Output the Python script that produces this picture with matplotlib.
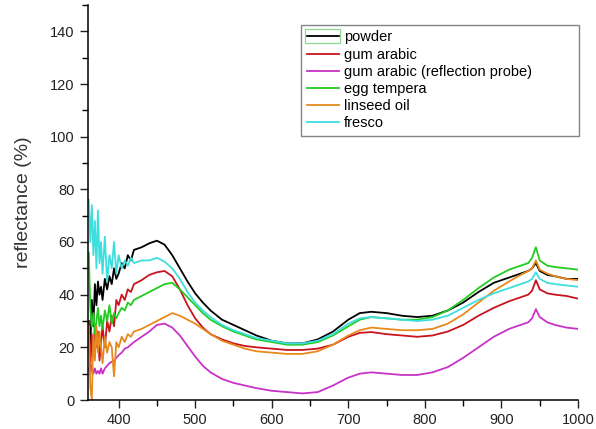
import matplotlib
matplotlib.use("Agg")
import matplotlib.pyplot as plt
from matplotlib.ticker import MultipleLocator
from matplotlib.patches import Rectangle

plt.rcParams['font.family'] = ['Liberation Sans', 'DejaVu Sans']

wavelength = [361, 363, 365, 367, 369, 371, 373, 375, 377, 379, 382, 385, 388, 391, 394, 397,
              400, 404, 408, 412, 416, 420,
              430, 440, 450, 460, 470, 480, 490, 500, 510, 520, 535, 550, 565, 580, 600, 620,
              640, 660, 680, 700, 715, 730, 750, 770, 790, 810, 830, 850, 870, 890, 910, 925,
              935, 940, 945, 950, 960, 970, 985, 1000]

powder = [30, 20, 38, 28, 44, 36, 45, 40, 43, 38, 46, 42, 47, 44, 50, 46,
          48, 52, 50, 55, 53, 57,
          58, 59.5, 60.5, 59, 55, 50, 45, 40.5, 37, 34, 30.5, 28.5, 26.5, 24.5, 22.5, 21.5,
          21.5, 23, 26, 30.5, 33, 33.5, 33, 32, 31.5, 32, 34, 37, 41, 44.5, 46.5, 48,
          49, 50, 52, 49, 47.5, 47, 46, 46]

gum_arabic = [30, 12, 25, 18, 28, 20, 26, 15, 22, 28, 20, 30, 26, 32, 28, 38,
              36, 40, 38, 42, 41, 44,
              45.5, 47.5, 48.5, 49, 47, 42, 36, 31, 27.5, 25, 23, 21.5, 20.5, 20, 19.5, 19,
              19, 19.5, 21, 24, 25.5, 25.8, 25, 24.5, 24, 24.5, 26, 28.5, 32, 35, 37.5, 39,
              40, 41.5, 45.5, 42, 40.5, 40, 39.5, 38.5]

gum_arabic_probe = [12, 10, 13, 10, 12, 10, 11, 10, 12, 10, 12, 13, 14, 14.5, 15, 16,
                    17, 18, 19.5, 20, 21, 22,
                    24, 26, 28.5, 29, 27.5, 24.5, 20.5, 16.5, 13, 10.5, 8, 6.5, 5.5, 4.5, 3.5, 3,
                    2.5, 3, 5.5, 8.5, 10, 10.5, 10, 9.5, 9.5, 10.5, 12.5, 16, 20, 24, 27, 28.5,
                    29.5, 31, 34.5, 31.5, 29.5, 28.5, 27.5, 27]

egg_tempera = [56, 35, 28, 33, 25, 30, 35, 28, 32, 27, 34, 30, 36, 29, 33, 31,
               33, 35, 34, 37, 36, 38,
               39.5, 41, 42.5, 44, 44.5, 42, 39, 36, 33, 30.5, 28, 26, 24.5, 23, 22, 21,
               21, 22, 24.5, 28, 30.5, 31.5, 31, 30.5, 30.5, 31.5, 34, 38, 42.5, 46.5, 49.5, 51,
               52, 54, 58, 53, 51, 50.5, 50, 49.5]

linseed_oil = [28, 5, 0, 25, 15, 28, 18, 26, 20, 14, 24, 18, 22, 20, 9, 22,
               20, 24, 22, 25, 24, 26,
               27, 28.5, 30, 31.5, 33, 32, 30.5, 29, 27, 25, 22.5, 21, 19.5, 18.5, 18, 17.5,
               17.5, 18.5, 21, 24.5, 26.5, 27.5, 27, 26.5, 26.5, 27, 29, 32.5, 37, 41.5, 45, 47.5,
               49, 50, 53, 49.5, 48, 47, 46, 45.5]

fresco = [76, 60, 74, 55, 68, 50, 72, 52, 60, 48, 62, 45, 55, 50, 60, 48,
          55, 50, 53, 51, 54, 52,
          53, 53, 54, 52.5, 50, 46, 41, 37, 34, 31.5, 28.5, 26.5, 25, 23.5, 22.5, 21.5,
          21.5, 22.5, 25, 29, 31, 31.5, 31, 30.5, 30, 30.5, 32, 35, 38, 40.5, 42.5, 44,
          45, 46, 48.5, 46, 44.5, 44, 43.5, 43]

series_labels = ["powder", "gum arabic", "gum arabic (reflection probe)",
                 "egg tempera", "linseed oil", "fresco"]
series_values = [powder, gum_arabic, gum_arabic_probe, egg_tempera, linseed_oil, fresco]
series_colors = ["#000000", "#c8141e", "#c832c8", "#22cc22", "#e8891e", "#3ddede"]

fig = plt.figure(figsize=(5.96, 4.29), dpi=100)
ax = fig.add_axes([88 / 596, 1 - 400 / 429, (578 - 88) / 596, (400 - 5) / 429])

for lab, vals, col in zip(series_labels, series_values, series_colors):
    ax.plot(wavelength, vals, color=col, lw=1.3, label=lab)

ax.set_xlim(360, 1000)
ax.set_ylim(0, 150)
ax.xaxis.set_major_locator(MultipleLocator(100))
ax.xaxis.set_minor_locator(MultipleLocator(50))
ax.yaxis.set_major_locator(MultipleLocator(20))
ax.yaxis.set_minor_locator(MultipleLocator(10))
ax.set_xticks([400, 500, 600, 700, 800, 900, 1000])
ax.set_yticks([0, 20, 40, 60, 80, 100, 120, 140])
ax.tick_params(which='major', direction='out', length=6, width=1, labelsize=10.5, colors='#222222')
ax.tick_params(which='minor', direction='out', length=4, width=1)
for s in ['top', 'right']:
    ax.spines[s].set_visible(False)
for s in ['left', 'bottom']:
    ax.spines[s].set_linewidth(1.1)

ax.set_ylabel("reflectance (%)", fontsize=14, color='#333333', labelpad=13)

leg = ax.legend(loc='upper left', bbox_to_anchor=(301 / 596, 1 - 25 / 429, 278 / 596, 0.001),
                bbox_transform=fig.transFigure, mode='expand', frameon=True, fancybox=False,
                edgecolor='#666666', fontsize=10.5, handlelength=2.2, handletextpad=0.35,
                borderpad=0.4, borderaxespad=0, labelspacing=0.22)
leg.get_frame().set_linewidth(1.0)

# thin green box around the first legend handle, as in the original
fig.canvas.draw()
bb = leg.legend_handles[0].get_window_extent(fig.canvas.get_renderer())
inv = fig.transFigure.inverted()
(x0, y0), (x1, y1) = inv.transform([(bb.x0 - 2, bb.y0 - 7), (bb.x1 + 1, bb.y1 + 7)])
fig.patches.append(Rectangle((x0, y0), x1 - x0, y1 - y0, transform=fig.transFigure,
                             fill=False, edgecolor='#8fd88f', lw=0.9))

fig.savefig("out.png", dpi=100)
